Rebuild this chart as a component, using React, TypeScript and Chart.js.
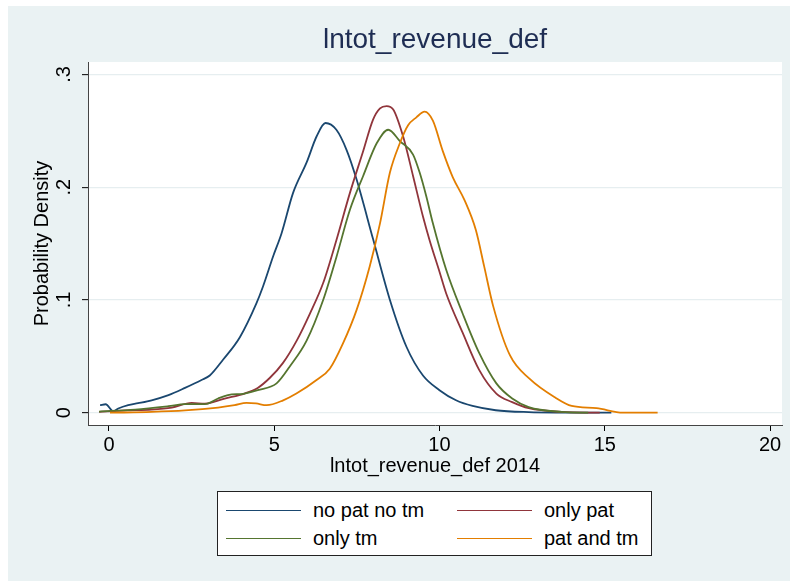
import React, { useEffect, useRef } from 'react';
import { Chart, registerables } from 'chart.js';

Chart.register(...registerables);

const TITLE = 'lntot_revenue_def';
const X_TITLE = 'lntot_revenue_def 2014';
const Y_TITLE = 'Probability Density';

const xTicks = [0, 5, 10, 15, 20];
const xTickLabels = ['0', '5', '10', '15', '20'];
const yTicks = [0, 0.1, 0.2, 0.3];
const yTickLabels = ['0', '.1', '.2', '.3'];

const seriesNames = ['no pat no tm', 'only pat', 'only tm', 'pat and tm'];
const seriesColors = ['#1A476F', '#90353B', '#55752F', '#E37E00'];

const noPatNoTmX = [-0.27, -0.1, 0.13, 0.28, 0.58, 0.88, 1.29, 1.8, 2.3, 2.8, 3.05, 3.45, 3.96, 4.46, 4.66, 4.97, 5.22, 5.57, 5.98, 6.28, 6.55, 6.88, 7.19, 7.49, 7.99, 8.5, 9.0, 9.5, 10.0, 10.5, 11.0, 11.7, 12.7, 13.7, 15.2];
const noPatNoTmY = [0.0067, 0.0075, 0.0013, 0.0037, 0.0067, 0.0084, 0.011, 0.0156, 0.022, 0.029, 0.033, 0.047, 0.067, 0.097, 0.112, 0.139, 0.159, 0.195, 0.222, 0.245, 0.257, 0.251, 0.233, 0.207, 0.154, 0.1, 0.0585, 0.033, 0.02, 0.011, 0.006, 0.0022, 0.0005, 0.0001, 0];

const onlyPatX = [-0.3, 0.5, 1.29, 1.9, 2.5, 2.9, 3.5, 4.1, 4.5, 4.87, 5.26, 5.68, 6.08, 6.48, 6.88, 7.29, 7.68, 7.99, 8.2, 8.4, 8.6, 8.9, 9.2, 9.5, 9.7, 10.0, 10.2, 10.7, 11.2, 11.72, 12.2, 12.7, 13.7, 14.85];
const onlyPatY = [0.0007, 0.002, 0.0028, 0.0046, 0.0087, 0.008, 0.0126, 0.017, 0.022, 0.031, 0.044, 0.064, 0.088, 0.115, 0.153, 0.195, 0.231, 0.26, 0.27, 0.272, 0.269, 0.245, 0.21, 0.174, 0.153, 0.125, 0.106, 0.071, 0.038, 0.017, 0.0094, 0.004, 0.0007, 0];

const onlyTmX = [-0.3, 0.79, 1.8, 2.3, 2.9, 3.3, 3.6, 4.1, 4.5, 5.07, 5.47, 5.98, 6.48, 6.88, 7.29, 7.69, 8.1, 8.45, 8.8, 9.2, 9.4, 9.6, 9.8, 10.2, 10.7, 11.2, 11.72, 12.2, 12.7, 13.7, 14.5];
const onlyTmY = [0.001, 0.0028, 0.0058, 0.0076, 0.0076, 0.0126, 0.0156, 0.017, 0.02, 0.026, 0.041, 0.064, 0.1, 0.138, 0.18, 0.21, 0.239, 0.251, 0.241, 0.229, 0.213, 0.192, 0.168, 0.127, 0.088, 0.053, 0.026, 0.0126, 0.005, 0.0007, 0];

const patAndTmX = [0.03, 1.29, 2.3, 3.3, 3.8, 4.16, 4.45, 4.77, 5.27, 5.67, 6.28, 6.68, 7.08, 7.49, 7.89, 8.2, 8.5, 8.8, 9.05, 9.3, 9.55, 9.8, 10.1, 10.4, 10.75, 11.1, 11.35, 11.62, 12.13, 12.73, 13.5, 14.0, 14.75, 15.55, 16.6];
const patAndTmY = [0, 0.0007, 0.002, 0.0046, 0.0067, 0.0087, 0.0082, 0.0067, 0.011, 0.017, 0.029, 0.039, 0.0615, 0.091, 0.13, 0.168, 0.213, 0.239, 0.255, 0.262, 0.267, 0.259, 0.232, 0.209, 0.189, 0.162, 0.13, 0.095, 0.051, 0.03, 0.0135, 0.006, 0.004, 0.0, 0.0];

const seriesX = [noPatNoTmX, onlyPatX, onlyTmX, patAndTmX];
const seriesY = [noPatNoTmY, onlyPatY, onlyTmY, patAndTmY];

const FONT = "'Liberation Sans', Arial, Helvetica, sans-serif";
const BG = '#EAF2F3';
const W = 782;
const H = 575;

const bgPlugin = {
  id: 'stataBg',
  beforeDraw(chart: any) {
    const { ctx, chartArea } = chart;
    ctx.save();
    ctx.fillStyle = BG;
    ctx.fillRect(0, 0, chart.width, chart.height);
    ctx.fillStyle = '#FFFFFF';
    ctx.fillRect(chartArea.left, chartArea.top, chartArea.right - chartArea.left, chartArea.bottom - chartArea.top);
    ctx.restore();
  },
  afterDraw(chart: any) {
    const { ctx } = chart;
    const ys = chart.scales.y;
    ctx.save();
    ctx.fillStyle = '#000000';
    ctx.font = `20px ${FONT}`;
    ctx.textAlign = 'center';
    ctx.textBaseline = 'middle';
    ys.ticks.forEach((t: any) => {
      const idx = yTicks.indexOf(t.value);
      const label = idx >= 0 ? yTickLabels[idx] : String(t.value);
      const py = ys.getPixelForValue(t.value);
      ctx.save();
      ctx.translate(ys.right - 24, py);
      ctx.rotate(-Math.PI / 2);
      ctx.fillText(label, 0, 0);
      ctx.restore();
    });
    ctx.restore();
  },
};

export default function App() {
  const ref = useRef<HTMLCanvasElement | null>(null);

  useEffect(() => {
    if (!ref.current) return;
    const datasets = seriesNames.map((name, i) => ({
      label: name,
      data: seriesX[i].map((x, j) => ({ x, y: seriesY[i][j] })),
      borderColor: seriesColors[i],
      backgroundColor: seriesColors[i],
      borderWidth: 1.8,
      pointRadius: 0,
      fill: false,
      cubicInterpolationMode: 'monotone' as const,
      order: 3 - i,
    }));
    const chart = new Chart(ref.current, {
      type: 'line',
      data: { datasets },
      plugins: [bgPlugin],
      options: {
        animation: false,
        responsive: false,
        devicePixelRatio: 1,
        layout: { padding: { left: 0, right: 8, top: 0, bottom: 0 } },
        plugins: {
          legend: { display: false },
          tooltip: { enabled: false },
          title: {
            display: true,
            text: TITLE,
            fullSize: false,
            color: '#1E2D53',
            font: { family: FONT, size: 28, weight: 'normal' as const, lineHeight: 1.2 },
            padding: { top: 17.2, bottom: 5.2 },
          },
        },
        scales: {
          x: {
            type: 'linear',
            min: -0.635,
            max: 20.363,
            afterBuildTicks: (axis: any) => {
              axis.ticks = xTicks.map((v) => ({ value: v }));
            },
            afterFit: (axis: any) => {
              axis.height = 156;
            },
            ticks: {
              color: '#000',
              font: { family: FONT, size: 20 },
              padding: 2,
              maxRotation: 0,
              autoSkip: false,
              callback: (v: any) => {
                const i = xTicks.indexOf(Number(v));
                return i >= 0 ? xTickLabels[i] : '';
              },
            },
            grid: { drawOnChartArea: false, drawTicks: true, tickLength: 6, tickColor: '#000', tickWidth: 1 },
            border: { display: true, color: '#444', width: 1 },
            title: {
              display: true,
              text: X_TITLE,
              color: '#000',
              font: { family: FONT, size: 20 },
              padding: { top: 0, bottom: 103 },
            },
          },
          y: {
            type: 'linear',
            min: -0.0109,
            max: 0.3111,
            afterBuildTicks: (axis: any) => {
              axis.ticks = yTicks.map((v) => ({ value: v }));
            },
            afterFit: (axis: any) => {
              axis.width = 80;
            },
            ticks: { display: false },
            grid: {
              drawOnChartArea: true,
              color: '#E6EEF0',
              lineWidth: 1.3,
              drawTicks: true,
              tickLength: 6,
              tickColor: '#000',
              tickWidth: 1,
            },
            border: { display: true, color: '#444', width: 1 },
            title: {
              display: true,
              text: Y_TITLE,
              color: '#000',
              font: { family: FONT, size: 20 },
              padding: { top: 22, bottom: 0 },
            },
          },
        },
      },
    });
    return () => chart.destroy();
  }, []);

  const legendRows = [
    [0, 1],
    [2, 3],
  ];

  return (
    <div style={{ position: 'absolute', left: 8, top: 6, width: W, height: H }}>
      <canvas ref={ref} width={W} height={H} style={{ width: W, height: H, display: 'block' }} />
      <div
        style={{
          position: 'absolute',
          left: 209,
          top: 485,
          width: 433,
          height: 63,
          background: '#FFFFFF',
          border: '1px solid #222',
          fontFamily: FONT,
          fontSize: 20,
          color: '#000',
        }}
      >
        {legendRows.map((row, r) =>
          row.map((si, c) => (
            <React.Fragment key={si}>
              <div
                style={{
                  position: 'absolute',
                  left: 8 + c * 231,
                  top: 18 + r * 28,
                  width: 75,
                  height: 0,
                  borderTop: `1.6px solid ${seriesColors[si]}`,
                }}
              />
              <div
                style={{
                  position: 'absolute',
                  left: 95 + c * 231,
                  top: 18 + r * 28 - 12,
                  lineHeight: '24px',
                  whiteSpace: 'nowrap',
                }}
              >
                {seriesNames[si]}
              </div>
            </React.Fragment>
          ))
        )}
      </div>
    </div>
  );
}
